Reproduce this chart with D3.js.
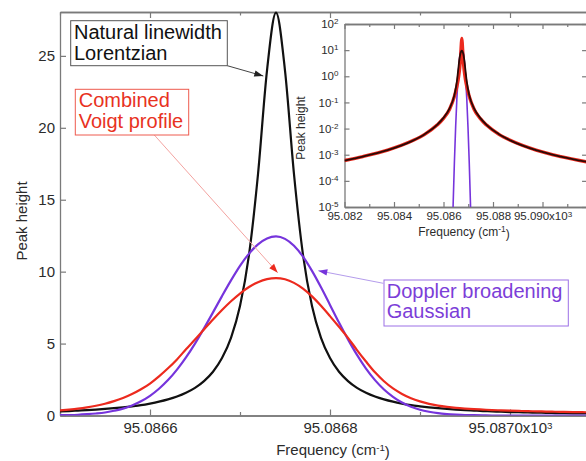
<!DOCTYPE html>
<html><head><meta charset="utf-8">
<script src="https://cdn.jsdelivr.net/npm/d3@7"></script>
<style>
body{margin:0;background:#fff}
svg{display:block;font-family:"Liberation Sans",Arial,Helvetica,sans-serif}
</style>
</head><body>
<svg id="c" width="586" height="461"></svg>
<script>
// ---------- main panel data (frequency in 10^3 cm^-1) ----------
const freq = [95.08650,95.08651,95.08652,95.08653,95.08654,95.08655,95.08656,95.08657,95.08658,95.08659,
  95.08660,95.08661,95.08662,95.08663,95.08664,95.08665,95.08666,95.08667,95.08668,95.08669,
  95.08670,95.08671,95.08672,95.08673,95.08674,95.08675,95.08676,95.08677,95.08678,95.08679,
  95.08680,95.08681,95.08682,95.08683,95.08684,95.08685,95.08686,95.08687,95.08688,95.08689,
  95.08690,95.08691,95.08692,95.08693,95.08694,95.08695,95.08696,95.08697,95.08698,95.08699,
  95.08700,95.08701,95.08702,95.08703,95.08704,95.08705,95.08706,95.08707,95.08708,95.08709,95.08710];
const lorentzian = [0.29,0.31,0.34,0.37,0.41,0.46,0.51,0.57,0.64,0.72,0.83,0.96,1.12,1.32,1.58,1.92,2.39,3.04,3.99,5.40,7.61,11.17,16.77,23.98,
  28.0,
  23.98,16.77,11.17,7.61,5.40,3.99,3.04,2.39,1.92,1.58,1.32,1.12,0.96,0.83,0.72,0.64,0.57,0.51,0.46,0.41,0.37,0.34,0.31,0.29,0.26,0.24,0.23,0.21,0.20,0.18,0.17,0.16,0.15,0.14,0.14,0.13];
const gaussian = [0.02,0.03,0.05,0.09,0.14,0.21,0.33,0.48,0.70,0.99,1.37,1.86,2.46,3.19,4.04,5.00,6.06,7.17,8.30,9.39,10.40,11.25,11.90,12.31,
  12.45,
  12.28,11.80,11.04,10.05,8.91,7.69,6.46,5.29,4.21,3.26,2.46,1.81,1.30,0.90,0.61,0.40,0.26,0.16,0.10,0.06,0.03,0.02,0.01,0,0,0,0,0,0,0,0,0,0,0,0,0];
const voigt = [0.35,0.41,0.48,0.57,0.68,0.82,1.00,1.22,1.49,1.82,2.22,2.72,3.28,3.90,4.60,5.28,5.98,6.67,7.33,7.94,8.48,8.93,9.27,9.48,
  9.55,
  9.47,9.22,8.82,8.28,7.63,6.91,6.16,5.40,4.55,3.75,3.00,2.38,1.88,1.50,1.20,0.98,0.81,0.69,0.60,0.53,0.48,0.44,0.41,0.38,0.36,0.34,0.32,0.30,0.29,0.27,0.26,0.25,0.24,0.23,0.22,0.21];
const mainXTicks = [95.0866, 95.0868, 95.0870];
const mainXMinor = [95.0865, 95.0867, 95.0869];
const mainYTicks = [0, 5, 10, 15, 20, 25];

// ---------- inset data (log scale) ----------
const insetFreq = [95.08200,95.08274,95.08374,95.08474,95.08524,95.08574,95.08599,95.08624,95.08644,95.08654,95.08659,
  95.08664,95.08666,95.08668,95.08670,95.08672,95.08674,95.08676,95.08678,95.08680,95.08682,95.08684,
  95.08689,95.08694,95.08704,95.08724,95.08749,95.08774,95.08824,95.08874,95.08974,95.09074,95.09200];
const insetLorentzian = [0.00060,0.00085,0.0015,0.0034,0.0060,0.0136,0.024,0.054,0.17,0.41,0.72,
  1.57,2.39,3.97,7.60,16.75,28.0,16.75,7.60,3.97,2.39,1.57,
  0.72,0.41,0.17,0.054,0.024,0.0136,0.0060,0.0034,0.0015,0.00085,0.00049];
const insetVoigt = [0.00060,0.00085,0.0015,0.0034,0.0061,0.0138,0.025,0.058,0.19,0.62,1.6,
  4.2,5.7,7.1,8.3,9.3,9.55,9.3,8.3,7.1,5.7,4.2,
  1.6,0.62,0.19,0.058,0.025,0.0138,0.0061,0.0034,0.0015,0.00085,0.00049];
const insetGaussFreq = [95.08634,95.08639,95.08644,95.08649,95.08654,95.08659,95.08664,95.08666,95.08668,95.08670,95.08672,
  95.08674,95.08676,95.08678,95.08680,95.08682,95.08684,95.08689,95.08694,95.08699,95.08704,95.08709,95.08714];
const insetGaussian = [1.9e-7,1.3e-5,5e-4,0.011,0.14,0.99,4.04,6.06,8.3,10.4,11.9,
  12.45,11.9,10.4,8.3,6.06,4.04,0.99,0.14,0.011,5e-4,1.3e-5,1.9e-7];
const insetXTicks = [95.082, 95.084, 95.086, 95.088, 95.090];
const insetXMinor = [95.083, 95.085, 95.087, 95.089, 95.091];
const insetYTicks = [1e-5, 1e-4, 1e-3, 1e-2, 1e-1, 1e0, 1e1, 1e2];

// ---------- colours ----------
const cBlack = '#111', cRed = '#ec2a1e', cPurple = '#7634dc';
const frameColor = '#7a7a7a', labelColor = '#2b2b2b';

const svg = d3.select('#c');

// ---------- main panel ----------
const x = d3.scaleLinear().domain([95.0865, 95.0871]).range([60, 600]);
const y = d3.scaleLinear().domain([0, 28.05]).range([415.5, 12]);

svg.append('defs').append('clipPath').attr('id','mainClip')
  .append('rect').attr('x',60).attr('y',0).attr('width',540).attr('height',415.5);

function styleAxis(g, fs){
  g.select('.domain').attr('stroke', frameColor).attr('stroke-width',1.3);
  g.selectAll('.tick line').attr('stroke', frameColor).attr('stroke-width',1.2);
  g.selectAll('.tick text').attr('fill', labelColor).attr('font-size', fs)
    .attr('font-family','"Liberation Sans",Arial,sans-serif');
}

// bottom axis
const gxb = svg.append('g').attr('transform','translate(0,415.5)')
  .call(d3.axisBottom(x).tickValues(mainXTicks).tickSize(-6).tickSizeOuter(0).tickPadding(7).tickFormat(d3.format('.4f')));
styleAxis(gxb, 15);
gxb.selectAll('.tick text').filter((d,i,n)=>i===n.length-1).each(function(){
  const t = d3.select(this);
  t.append('tspan').text('x10');
  t.append('tspan').attr('dy','-0.45em').attr('font-size','0.65em').text('3');
});
const gxbm = svg.append('g').attr('transform','translate(0,415.5)')
  .call(d3.axisBottom(x).tickValues(mainXMinor).tickSize(-3.5).tickSizeOuter(0).tickFormat(''));
styleAxis(gxbm, 15);
// top mirror
const gxt = svg.append('g').attr('transform','translate(0,12)')
  .call(d3.axisTop(x).tickValues(mainXTicks).tickSize(-6).tickSizeOuter(0).tickFormat(''));
styleAxis(gxt, 15);
const gxtm = svg.append('g').attr('transform','translate(0,12)')
  .call(d3.axisTop(x).tickValues(mainXMinor).tickSize(-3.5).tickSizeOuter(0).tickFormat(''));
styleAxis(gxtm, 15);
// left axis
const gyl = svg.append('g').attr('transform','translate(60,0)')
  .call(d3.axisLeft(y).tickValues(mainYTicks).tickSize(-6).tickSizeOuter(0).tickPadding(5));
styleAxis(gyl, 15);

// axis titles
svg.append('text').attr('transform','translate(27,221) rotate(-90)').attr('text-anchor','middle')
  .attr('font-size',15).attr('fill',labelColor).text('Peak height');
const xt = svg.append('text').attr('x',333).attr('y',455).attr('text-anchor','middle')
  .attr('font-size',15).attr('fill',labelColor).text('Frequency (cm');
xt.append('tspan').attr('dy','-0.45em').attr('font-size','0.65em').text('-1');
xt.append('tspan').attr('dy','0.45em').text(')');

// curves
const mainLine = d3.line().x((d,i)=>x(freq[i])).y(d=>y(d)).curve(d3.curveMonotoneX);
const curves = svg.append('g').attr('clip-path','url(#mainClip)');
curves.append('path').attr('d', mainLine(lorentzian)).attr('fill','none').attr('stroke',cBlack).attr('stroke-width',2.2).attr('stroke-linejoin','round');
curves.append('path').attr('d', mainLine(gaussian)).attr('fill','none').attr('stroke',cPurple).attr('stroke-width',2.2);
curves.append('path').attr('d', mainLine(voigt)).attr('fill','none').attr('stroke',cRed).attr('stroke-width',2.2);

// ---------- annotations ----------
function arrow(x1,y1,x2,y2,lineColor,headColor){
  svg.append('line').attr('x1',x1).attr('y1',y1).attr('x2',x2).attr('y2',y2)
    .attr('stroke',lineColor).attr('stroke-width',1);
  const a = Math.atan2(y2-y1, x2-x1), L = 9, W = 3.2;
  const bx = x2 - L*Math.cos(a), by = y2 - L*Math.sin(a);
  const px = -Math.sin(a)*W, py = Math.cos(a)*W;
  svg.append('path').attr('d',`M${x2},${y2}L${bx+px},${by+py}L${bx-px},${by-py}Z`).attr('fill',headColor);
}
function box(x0,y0,w,h,stroke,textColor,lines,tx,b1,b2){
  svg.append('rect').attr('x',x0).attr('y',y0).attr('width',w).attr('height',h)
    .attr('fill','#fff').attr('stroke',stroke).attr('stroke-width',1);
  svg.append('text').attr('x',tx).attr('y',b1).attr('font-size',20).attr('fill',textColor).text(lines[0]);
  svg.append('text').attr('x',tx).attr('y',b2).attr('font-size',20).attr('fill',textColor).text(lines[1]);
}
arrow(227.3,65.7,263.3,76,'#444','#222');
box(70.7,20.7,156.6,45,'#555','#111',['Natural linewidth','Lorentzian'],74,38.5,59.5);
arrow(154.3,135,277.7,272.7,'#f3a3a0',cRed);
box(75.3,89.3,113.4,45.7,'#ee5a4e','#e8321e',['Combined','Voigt profile'],78.7,107.3,127.7);
arrow(383.3,283.3,318.3,270.7,'#b49cec',cPurple);
box(384,280,184.3,46,'#9c70e6','#7c3ed8',['Doppler broadening','Gaussian'],386.7,298.3,318.3);

// ---------- inset ----------
const ix = d3.scaleLinear().domain([95.082, 95.0918]).range([344.5, 587.05]);
const iy = d3.scaleLog().domain([1e-5, 1e2]).range([207, 24]);
svg.append('rect').attr('x',344.5).attr('y',24).attr('width',242.5).attr('height',183).attr('fill','#fff');
svg.select('defs').append('clipPath').attr('id','insetClip')
  .append('rect').attr('x',344.5).attr('y',24).attr('width',242.55).attr('height',183);

const ib = svg.append('g').attr('transform','translate(0,207)')
  .call(d3.axisBottom(ix).tickValues(insetXTicks).tickSize(-5).tickSizeOuter(0).tickPadding(5).tickFormat(d3.format('.3f')));
styleAxis(ib, 11.5);
ib.selectAll('.tick text').filter((d,i,n)=>i===n.length-1).each(function(){
  const t = d3.select(this);
  t.append('tspan').text('x10');
  t.append('tspan').attr('dy','-0.45em').attr('font-size','0.7em').text('3');
});
styleAxis(svg.append('g').attr('transform','translate(0,207)')
  .call(d3.axisBottom(ix).tickValues(insetXMinor).tickSize(-3).tickSizeOuter(0).tickFormat('')), 11.5);
styleAxis(svg.append('g').attr('transform','translate(0,24)')
  .call(d3.axisTop(ix).tickValues(insetXTicks).tickSize(-5).tickSizeOuter(0).tickFormat('')), 11.5);
styleAxis(svg.append('g').attr('transform','translate(0,24)')
  .call(d3.axisTop(ix).tickValues(insetXMinor).tickSize(-3).tickSizeOuter(0).tickFormat('')), 11.5);
const il = svg.append('g').attr('transform','translate(344.5,0)')
  .call(d3.axisLeft(iy).tickValues(insetYTicks).tickSize(-5).tickSizeOuter(0).tickPadding(6).tickFormat(''));
styleAxis(il, 11.5);
il.selectAll('.tick text').each(function(d){
  const t = d3.select(this);
  t.append('tspan').text('10');
  t.append('tspan').attr('dy','-0.5em').attr('font-size','0.7em').text(String(Math.round(Math.log10(d))));
});
styleAxis(svg.append('g').attr('transform','translate(587.05,0)')
  .call(d3.axisRight(iy).tickValues(insetYTicks).tickSize(-5).tickSizeOuter(0).tickFormat('')), 11.5);

svg.append('text').attr('transform','translate(305,128) rotate(-90)').attr('text-anchor','middle')
  .attr('font-size',12).attr('fill',labelColor).text('Peak height');
const ixt = svg.append('text').attr('x',464).attr('y',236).attr('text-anchor','middle')
  .attr('font-size',12).attr('fill',labelColor).text('Frequency (cm');
ixt.append('tspan').attr('dy','-0.45em').attr('font-size','0.7em').text('-1');
ixt.append('tspan').attr('dy','0.45em').text(')');

const ic = svg.append('g').attr('clip-path','url(#insetClip)');
const insetLine = d3.line().x((d,i)=>ix(insetFreq[i])).y(d=>iy(d)).curve(d3.curveMonotoneX);
const insetGLine = d3.line().x((d,i)=>ix(insetGaussFreq[i])).y(d=>iy(d)).curve(d3.curveMonotoneX);
ic.append('path').attr('d', insetGLine(insetGaussian)).attr('fill','none').attr('stroke',cPurple).attr('stroke-width',1.6);
ic.append('path').attr('d', insetLine(insetLorentzian)).attr('fill','none').attr('stroke',cRed).attr('stroke-width',3.4);
ic.append('path').attr('d', insetLine(insetVoigt)).attr('fill','none').attr('stroke','#2a0a06').attr('stroke-width',1.8);
</script>
</body></html>
